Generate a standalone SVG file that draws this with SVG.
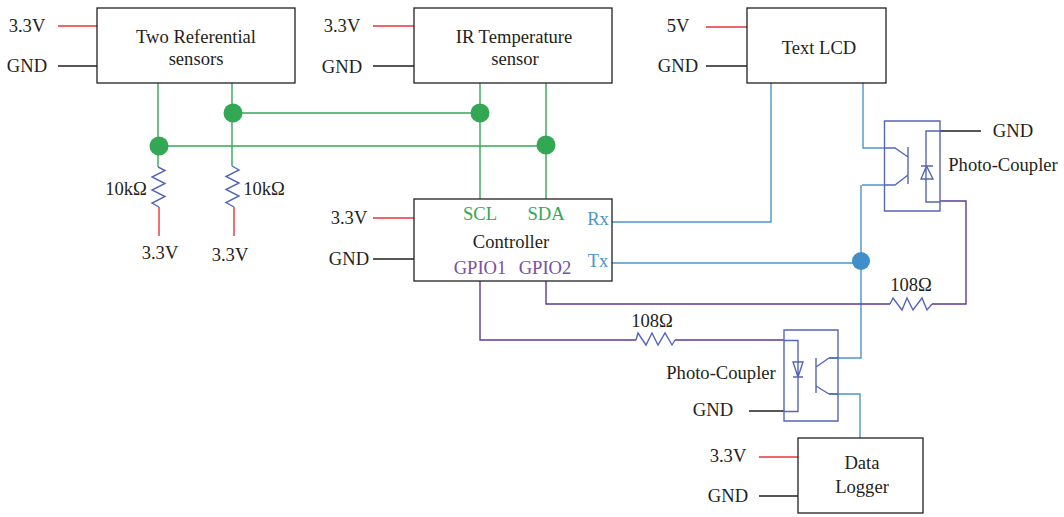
<svg xmlns="http://www.w3.org/2000/svg" width="1064" height="517" viewBox="0 0 1064 517">
<style>
text{font-family:"Liberation Serif","Times New Roman",serif;font-size:18.6px;fill:#231f20;text-anchor:middle}
text.g{fill:#33a854}text.b{fill:#4b96c8}text.p{fill:#7a4fa3}
.box{fill:#fff;stroke:#231f20;stroke-width:1.3}
path,line{fill:none;stroke-width:1.4}
.rl{stroke:#e8343a}.kl{stroke:#231f20}.gl{stroke:#35a853}.bl{stroke:#4b96c8}.pl{stroke:#5e3a98}.il{stroke:#5566b8}
.dg{fill:#33a854}.db{fill:#3f8fcb}
</style>
<g id="connectors">
<path class="rl" d="M58 26H97M373 26H414M706 27H747M373 218H414M759 457H798M159 207V236M234 207V236"/>
<path class="kl" d="M58 66H97M373 66H414M706 66H747M373 259H414M940 131H981M749 411H784M759 496H798"/>
<path class="gl" d="M158 83V167M232 83V166M233 113H480M159 146H546M480 83V199M546 83V199"/>
<path class="il" d="M158 167L165 170.500L152 177L165 183.500L152 190L165 196.500L152 203L159 207M232 166L239 170L226 176.500L239 183L226 189.500L239 196L226 202.500L234 207"/>
<path class="il" d="M890 304L893 298L902 310L907 298L913 310L922 298L927 310L932 304M636 340L638 333L646 345L652 333L658 345L665 333L672 345L675 340"/>
<path class="bl" d="M612 222H771V83M863 83V148H885M612 263H861M862 185H885M861 185V358H829M829 394H860V438"/>
<path class="pl" d="M546 281V304H890M932 304H966V201H940M480 281V340H636M675 340H784"/>
</g>
<g id="node-two-referential"><rect class="box" x="97" y="8" width="198" height="75"/><text x="196" y="43">Two Referential</text><text x="196" y="65">sensors</text></g>
<g id="node-ir"><rect class="box" x="414" y="8" width="198" height="75"/><text x="514" y="43">IR Temperature</text><text x="515" y="65">sensor</text></g>
<g id="node-lcd"><rect class="box" x="747" y="8" width="139" height="75"/><text x="819" y="54">Text LCD</text></g>
<g id="node-controller"><rect class="box" x="414" y="199" width="198" height="82"/><text x="511" y="248">Controller</text><text class="g" x="480" y="220">SCL</text><text class="g" x="546" y="220">SDA</text><text class="b" x="598" y="225">Rx</text><text class="b" x="598" y="267">Tx</text><text class="p" x="480" y="274">GPIO1</text><text class="p" x="545" y="274">GPIO2</text></g>
<g id="node-logger"><rect class="box" x="798" y="438" width="125" height="75"/><text x="862" y="469">Data</text><text x="862" y="493">Logger</text></g>
<g id="node-coupler-top"><path class="il" d="M884.500 121H940V211H884.500ZM940 131H926V202H940M885 148H895L908 157M908 147V184M885 185H895L908 175M921 166H933M926.500 166L921 179H933Z"/></g>
<g id="node-coupler-bottom"><path class="il" d="M784 330H838V421H784ZM784 340.500H798V411.500H784M829 358L816 367M816 358V393M829 394L816 386M793 377H803M793 362H803L798 377Z"/></g>
<path class="il" d="M829 358H838M829 394H838"/>
<g id="labels">
<text x="27" y="32">3.3V</text><text x="27" y="72">GND</text><text x="342" y="32">3.3V</text><text x="342" y="73">GND</text><text x="678" y="32">5V</text><text x="678" y="72">GND</text><text x="349" y="224">3.3V</text><text x="349" y="265">GND</text><text x="160" y="259">3.3V</text><text x="230" y="261">3.3V</text><text x="126" y="195">10kΩ</text><text x="264" y="195">10kΩ</text><text x="1013" y="137">GND</text><text x="1003" y="171">Photo-Coupler</text><text x="911" y="291">108Ω</text><text x="652" y="327">108Ω</text><text x="721" y="379">Photo-Coupler</text><text x="713" y="416">GND</text><text x="728" y="462">3.3V</text><text x="728" y="502">GND</text>
</g>
<g id="junctions"><circle class="dg" cx="159" cy="146" r="9.500"/><circle class="dg" cx="233" cy="113" r="9.500"/><circle class="dg" cx="480" cy="113" r="9.500"/><circle class="dg" cx="546" cy="145" r="9.500"/><circle class="db" cx="861" cy="261" r="9"/></g>
</svg>
